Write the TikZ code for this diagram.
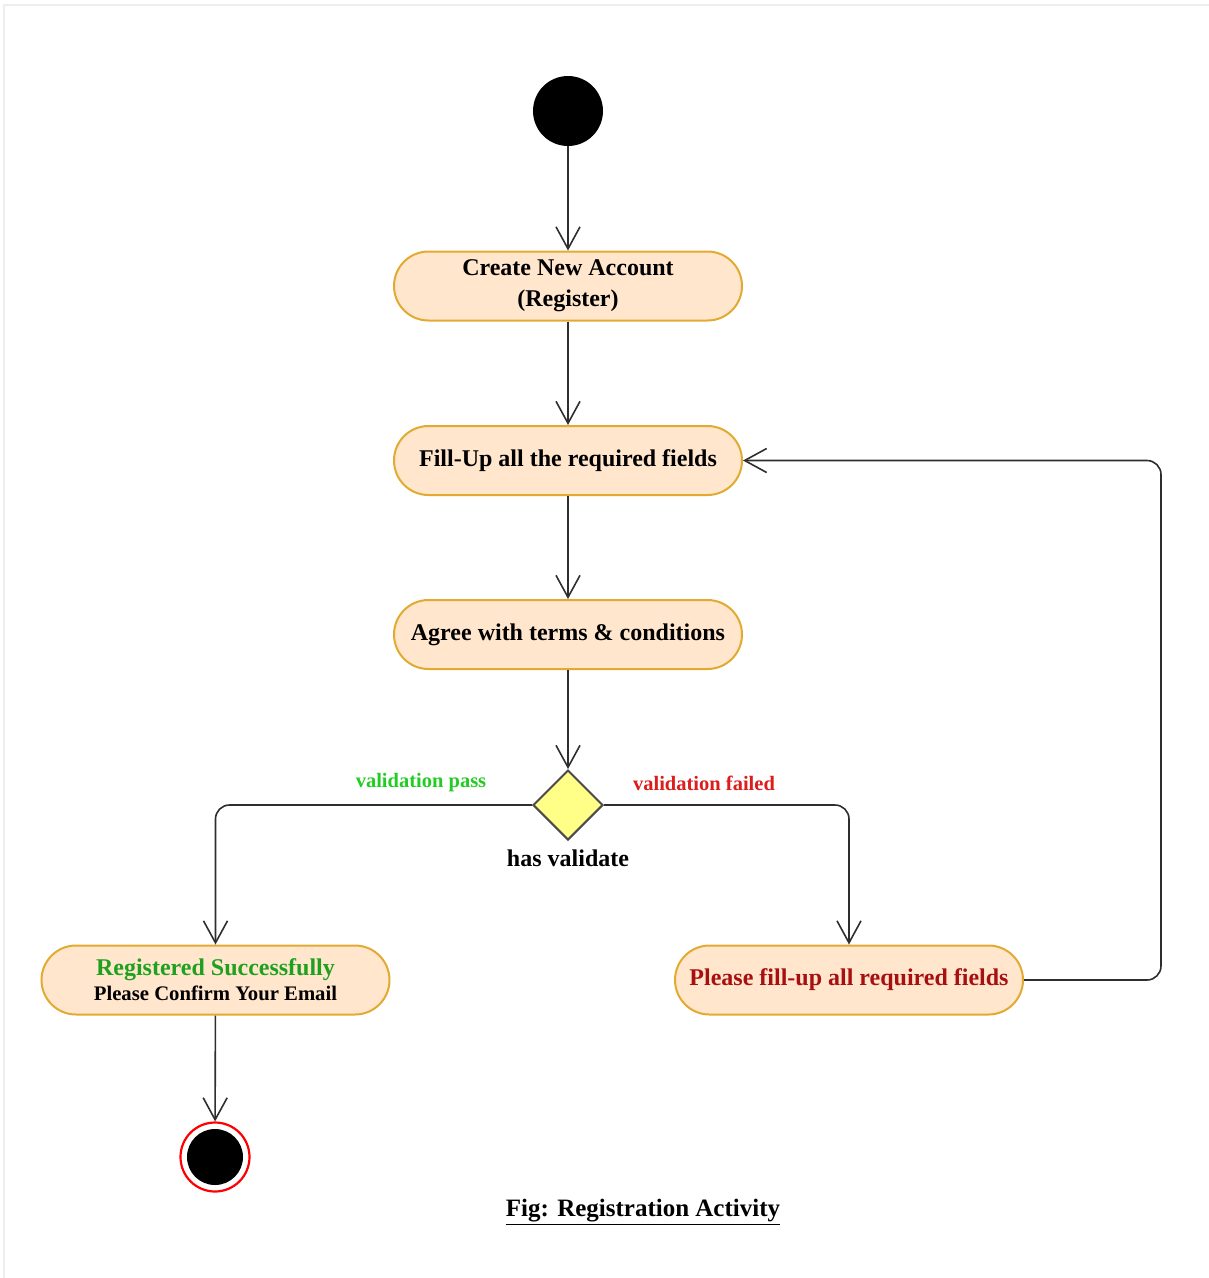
\documentclass[tikz,border=0pt]{standalone}
\usepackage{fontspec}
\setmainfont{Liberation Serif}
\usetikzlibrary{arrows.meta,shapes.geometric}

\definecolor{actfill}{HTML}{FFE6CC}
\definecolor{actline}{HTML}{E2AA30}
\definecolor{decfill}{HTML}{FFFF88}
\definecolor{decline}{HTML}{4A4A4A}
\definecolor{flowline}{HTML}{2E2E2E}
\definecolor{passgreen}{HTML}{22CC22}
\definecolor{okgreen}{HTML}{1FA01F}
\definecolor{failred}{HTML}{DD1C1C}
\definecolor{errred}{HTML}{A81010}
\definecolor{pageedge}{HTML}{EEEEEE}

\tikzset{
  activity/.style={draw=actline, fill=actfill, line width=2pt,
    rounded corners=34.5pt, minimum width=348pt, minimum height=69pt,
    align=center, inner sep=0pt, font=\fontsize{24}{31}\selectfont\bfseries},
  decision/.style={diamond, draw=decline, fill=decfill, line width=2pt,
    minimum width=70pt, minimum height=70pt, inner sep=0pt},
  initial/.style={circle, fill=black, minimum size=70pt, inner sep=0pt},
  finalring/.style={circle, draw=red, line width=2.2pt, fill=white,
    minimum size=69pt, inner sep=0pt},
  finaldot/.style={circle, fill=black, minimum size=56pt, inner sep=0pt},
  flow/.style={draw=flowline, line width=1.6pt,
    -{Straight Barb[length=22pt,width=24pt,line width=1.6pt]}},
  guard/.style={font=\fontsize{20.5}{24}\selectfont\bfseries},
  caption/.style={font=\fontsize{25}{30}\selectfont\bfseries}
}

\begin{document}
\begin{tikzpicture}[x=1pt,y=-1pt]
  \useasboundingbox (0,0) rectangle (1209,1278);
  % page edge
  \draw[pageedge, line width=2pt] (4,1278) -- (4,5) -- (1209,5);

  % nodes
  \node[initial] (start) at (568,111) {};
  \node[activity] (create) at (568,286) {Create New Account\\(Register)};
  \node[activity] (fill) at (568,460.5) {Fill-Up all the required fields};
  \node[activity] (agree) at (568,634.5) {Agree with terms \& conditions};
  \node[decision] (check) at (568,805) {};
  \node[font=\fontsize{24}{28}\selectfont\bfseries] (checklbl) at (568,858) {has validate};
  \node[activity] (success) at (215.5,980)
    {\textcolor{okgreen}{Registered Successfully}\\[-6pt]
     {\fontsize{20.7}{24}\selectfont Please Confirm Your Email}};
  \node[activity, text=errred] (retry) at (849,980) {Please fill-up all required fields};
  \node[finalring] (end) at (215,1157) {};
  \node[finaldot] (enddot) at (215,1157) {};

  % guards
  \node[guard, text=passgreen] (passlbl) at (421,783) {validation pass};
  \node[guard, text=failred] (faillbl) at (704,783) {validation failed};

  % loop-back bends
  \coordinate (loopLow) at (1161,980);
  \coordinate (loopHigh) at (1161,460.5);

  % connectors
  \draw[flow] (start) -- (create);
  \draw[flow] (create) -- (fill);
  \draw[flow] (fill) -- (agree);
  \draw[flow] (agree) -- (check);
  \draw[flow, rounded corners=14pt] (check.west) -| (success.north);
  \draw[flow, rounded corners=14pt] (check.east) -| (retry.north);
  \draw[flow, rounded corners=14pt] (retry.east) -- (loopLow) -- (loopHigh) -- (fill.east);
  \draw[flow] (success) -- (end);

  % caption
  \node[caption] (figcap) at (643,1212) {\underline{Fig: Registration Activity}};
\end{tikzpicture}
\end{document}
